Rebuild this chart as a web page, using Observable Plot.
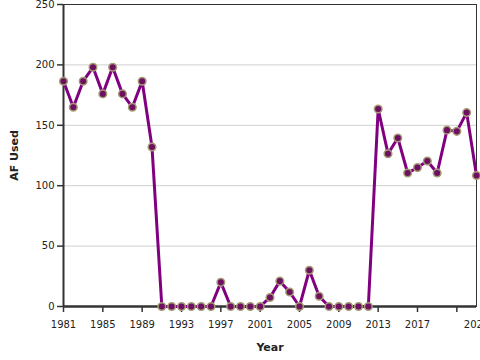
<!DOCTYPE html>
<html>
<head>
<meta charset="utf-8">
<script src="https://cdn.jsdelivr.net/npm/d3@7"></script>
<script src="https://cdn.jsdelivr.net/npm/@observablehq/plot@0.6"></script>
<style>
  html, body { margin: 0; padding: 0; background: #fff; }
  #chart svg { display: block; font-family: "DejaVu Sans", sans-serif; }
</style>
</head>
<body>
<div id="chart"></div>
<script>
const years = [1981,1982,1983,1984,1985,1986,1987,1988,1989,1990,
  1991,1992,1993,1994,1995,1996,1997,1998,1999,2000,
  2001,2002,2003,2004,2005,2006,2007,2008,2009,2010,
  2011,2012,2013,2014,2015,2016,2017,2018,2019,2020,
  2021,2022,2023];
const afUsed = [186.5,165,186.5,198,176,198,176,165,186.5,132,
  0,0,0,0,0,0,20,0,0,0,
  0,7.5,21,12,0,30,8.5,0,0,0,
  0,0,163.5,126.5,139.5,110.5,115,120.5,110.5,146,
  145,160.5,108.5];
const xTickYears = [1981,1985,1989,1993,1997,2001,2005,2009,2013,2017,2021];
const xLabelYears = [1981,1985,1989,1993,1997,2001,2005,2009,2013,2017,2023];
const yTicks = [0,50,100,150,200,250];
const yGrid = [50,100,150,200];

const data = years.map((y, i) => ({year: y, af: afUsed[i]}));

const chart = Plot.plot({
  width: 480,
  height: 360,
  marginLeft: 63,
  marginRight: 4,
  marginTop: 4,
  marginBottom: 54,
  style: {fontFamily: "DejaVu Sans, sans-serif", fontSize: "10px", color: "#222", overflow: "hidden"},
  x: {domain: [1981, 2023]},
  y: {domain: [0, 250]},
  marks: [
    Plot.gridY(yGrid, {stroke: "#d0d0d0", strokeOpacity: 1}),
    Plot.frame({stroke: "#333", strokeWidth: 1}),
    Plot.axisY(yTicks, {tickSize: 6, tickPadding: 3, tickFormat: d => String(d), stroke: "#333", strokeWidth: 1.5, label: null, fill: "#222"}),
    Plot.axisX(xTickYears, {tickSize: 6, tickFormat: () => "", stroke: "#333", strokeWidth: 1.5, label: null}),
    Plot.axisX(xLabelYears, {tickSize: 0, tickPadding: 14, tickFormat: d => String(d), label: null, fill: "#222"}),
    Plot.ruleX([1981], {stroke: "#333", strokeWidth: 2}),
    Plot.ruleY([0], {stroke: "#333", strokeWidth: 2.5}),
    Plot.line(data, {x: "year", y: "af", stroke: "#800080", strokeWidth: 3, curve: "linear"}),
    Plot.dot(data, {x: "year", y: "af", r: 3.8, fill: "#6e0f62", stroke: "#a49c74", strokeWidth: 1.5}),
    Plot.text(["AF Used"], {frameAnchor: "left", dx: -49, rotate: -90, textAnchor: "middle", fontWeight: "bold", fontSize: 11, fill: "#222"}),
    Plot.text(["Year"], {frameAnchor: "bottom", dy: 44, fontWeight: "bold", fontSize: 11, fill: "#222"})
  ]
});
document.getElementById("chart").appendChild(chart);
</script>
</body>
</html>
